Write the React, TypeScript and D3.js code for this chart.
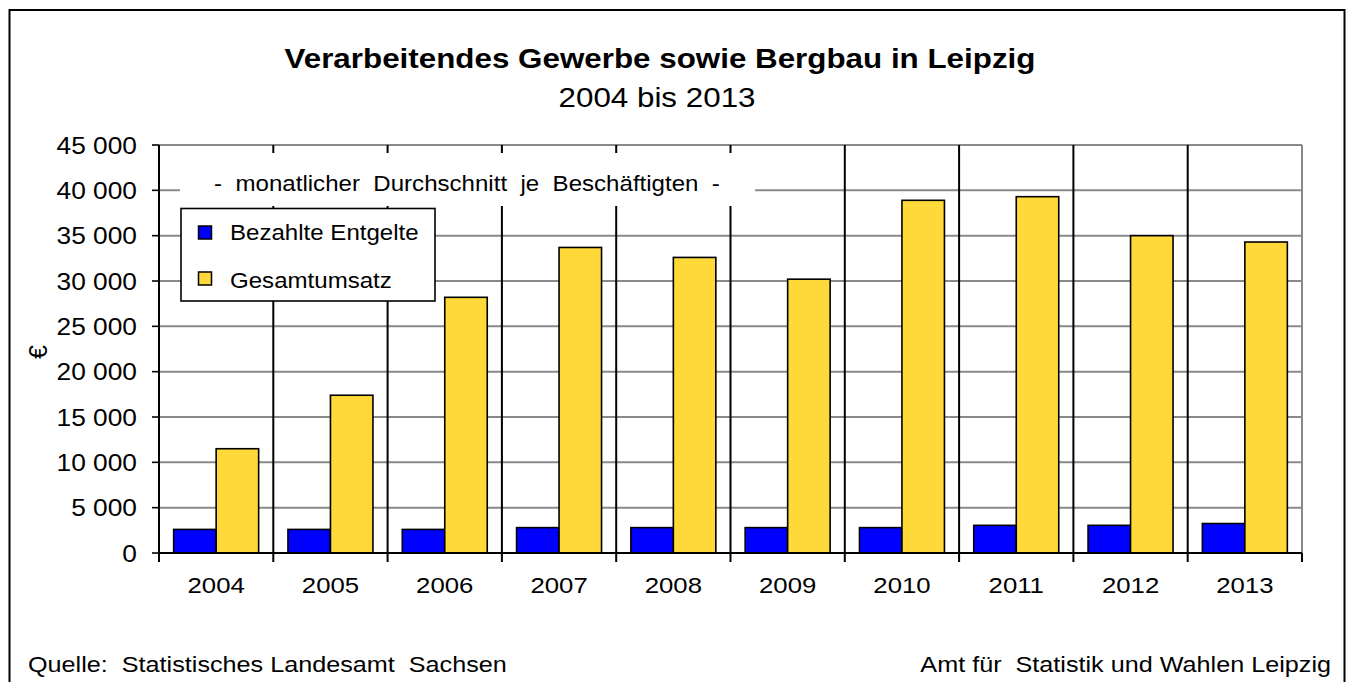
import React from "react";
import * as d3 from "d3";

const years = ["2004", "2005", "2006", "2007", "2008", "2009", "2010", "2011", "2012", "2013"];
const entgelte = [2600, 2600, 2600, 2800, 2800, 2800, 2800, 3050, 3050, 3250];
const umsatz = [11500, 17400, 28200, 33700, 32600, 30200, 38900, 39300, 35000, 34300];
const seriesNames = ["Bezahlte Entgelte", "Gesamtumsatz"];
const seriesColors = ["#0000FF", "#FFD939"];
const yTicks = [0, 5000, 10000, 15000, 20000, 25000, 30000, 35000, 40000, 45000];

const title = "Verarbeitendes Gewerbe sowie Bergbau in Leipzig";
const subtitle = "2004 bis 2013";
const note = "- monatlicher Durchschnitt je Beschäftigten -";
const sourceLeft = "Quelle:  Statistisches Landesamt  Sachsen";
const sourceRight = "Amt für  Statistik und Wahlen Leipzig";
const yLabel = "€";

const W = 1349;
const H = 682;
const SX = 1.12;
const FONT = "'Liberation Sans', Arial, Helvetica, sans-serif";

const fmt = (v: number) => {
  if (v === 0) return "0";
  const th = Math.floor(v / 1000);
  const rest = v % 1000;
  return `${th} ${String(rest).padStart(3, "0")}`;
};

function T(props: {
  x: number;
  y: number;
  size: number;
  anchor?: string;
  weight?: string;
  children: React.ReactNode;
  ws?: number;
}) {
  const { x, y, size, anchor = "start", weight = "normal", children, ws } = props;
  return (
    <text
      transform={`translate(${x},${y}) scale(${SX},1)`}
      fontSize={size}
      fontFamily={FONT}
      fontWeight={weight}
      textAnchor={anchor}
      fill="#000"
      style={{ whiteSpace: "pre", wordSpacing: ws ? `${ws}px` : undefined }}
    >
      {children}
    </text>
  );
}

export default function App() {
  const left = 159;
  const right = 1302;
  const top = 145;
  const bottom = 553;

  const x = d3.scaleBand<string>().domain(years).range([left, right]).padding(0);
  const bw = x.bandwidth();
  const xs = d3
    .scaleBand<number>()
    .domain([0, 1])
    .range([0, bw])
    .paddingInner(0)
    .paddingOuter(0.345);
  const y = d3.scaleLinear().domain([0, 45000]).range([bottom, top]);

  const series = [entgelte, umsatz];

  return (
    <svg
      width={W}
      height={H}
      style={{ position: "fixed", left: 0, top: 0, background: "#fff" }}
    >
      <rect x={0} y={0} width={W} height={H} fill="#fff" />
      {/* outer frame */}
      <rect x={9.5} y={10} width={1335} height={H + 20} fill="none" stroke="#000" strokeWidth={2} />

      <T x={660} y={68} size={28} anchor="middle" weight="bold">
        {title}
      </T>
      <T x={657} y={107} size={28} anchor="middle">
        {subtitle}
      </T>

      {/* gridlines */}
      {yTicks
        .filter((t) => t > 0)
        .map((t) => (
          <line
            key={"g" + t}
            x1={left}
            x2={right}
            y1={y(t)}
            y2={y(t)}
            stroke="#8a8a8a"
            strokeWidth={2}
          />
        ))}
      {/* right border */}
      <line x1={right} x2={right} y1={top} y2={bottom} stroke="#8a8a8a" strokeWidth={2} />
      <line x1={right} x2={right} y1={bottom} y2={562} stroke="#000" strokeWidth={2} />

      {/* category dividers */}
      {years.slice(1).map((yr) => (
        <line
          key={"d" + yr}
          x1={x(yr)!}
          x2={x(yr)!}
          y1={top}
          y2={562}
          stroke="#000"
          strokeWidth={2}
        />
      ))}

      {/* bars */}
      {series.map((vals, si) =>
        years.map((yr, i) => (
          <rect
            key={`b${si}-${yr}`}
            x={x(yr)! + xs(si)!}
            y={y(vals[i])}
            width={xs.bandwidth()}
            height={bottom - y(vals[i])}
            fill={seriesColors[si]}
            stroke="#000"
            strokeWidth={1.6}
          />
        ))
      )}

      {/* axes */}
      <line x1={left} x2={right} y1={bottom} y2={bottom} stroke="#000" strokeWidth={2.2} />
      <line x1={left} x2={left} y1={top} y2={562} stroke="#000" strokeWidth={2} />
      {yTicks.map((t) => (
        <g key={"t" + t}>
          <line x1={152} x2={left} y1={y(t)} y2={y(t)} stroke="#000" strokeWidth={1.6} />
          <T x={137} y={y(t) + 8.5} size={23.5} anchor="end">
            {fmt(t)}
          </T>
        </g>
      ))}
      {years.map((yr) => (
        <T key={"x" + yr} x={x(yr)! + bw / 2} y={593} size={23} anchor="middle">
          {yr}
        </T>
      ))}
      <text
        transform={`translate(47,352) rotate(-90)`}
        fontSize={25}
        fontFamily={FONT}
        textAnchor="middle"
      >
        {yLabel}
      </text>

      {/* note box */}
      <rect x={180} y={153} width={575} height={53} fill="#fff" />
      <T x={467} y={191} size={21.5} anchor="middle" ws={6}>
        {note}
      </T>

      {/* legend */}
      <rect x={181} y={208.5} width={254} height={92.5} fill="#fff" stroke="#000" strokeWidth={1.6} />
      {seriesNames.map((n, i) => (
        <g key={"l" + i}>
          <rect
            x={198.5}
            y={226 + i * 46}
            width={13}
            height={13}
            fill={seriesColors[i]}
            stroke="#000"
            strokeWidth={1.5}
          />
          <T x={230} y={239.5 + i * 48} size={21.5}>
            {n}
          </T>
        </g>
      ))}

      {/* footer */}
      <T x={28} y={672} size={22.5}>
        {sourceLeft}
      </T>
      <T x={1331} y={672} size={22.5} anchor="end">
        {sourceRight}
      </T>
    </svg>
  );
}
